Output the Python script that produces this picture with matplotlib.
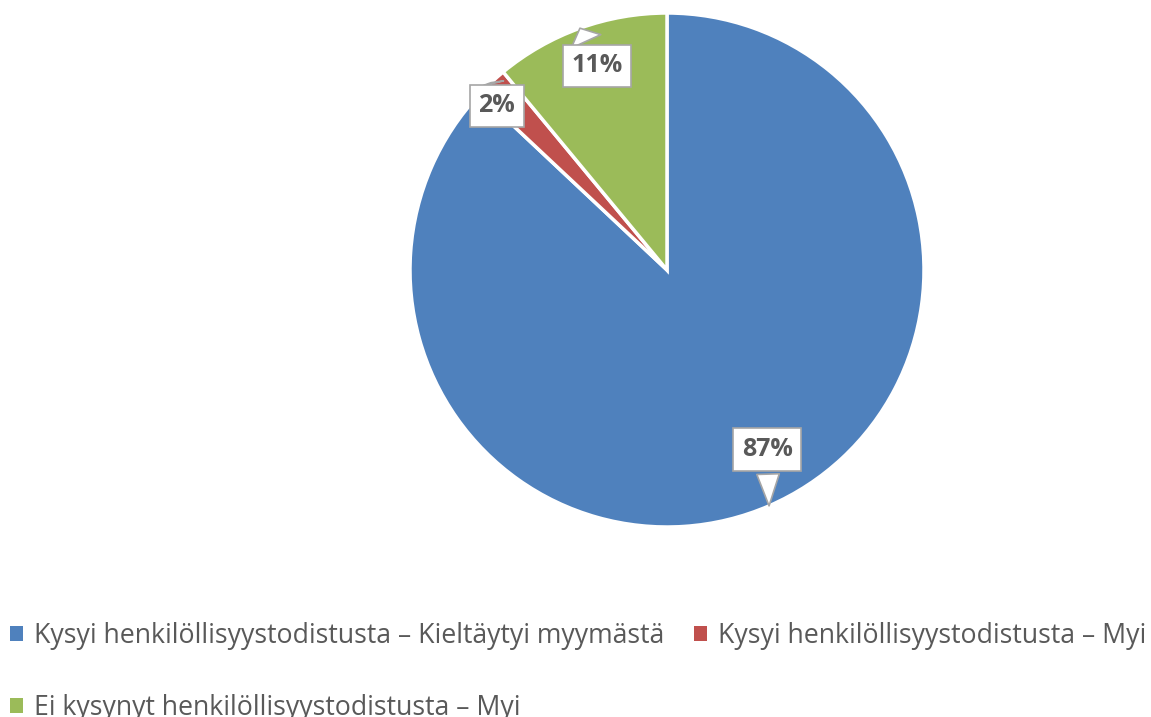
import numpy as np
import matplotlib
matplotlib.use("Agg")
import matplotlib.pyplot as plt
from matplotlib.patches import Patch

labels = ["Kysyi henkilöllisyystodistusta – Kieltäytyi myymästä",
          "Kysyi henkilöllisyystodistusta – Myi",
          "Ei kysynyt henkilöllisyystodistusta – Myi"]
values = [87, 2, 11]
pct_labels = ["87%", "2%", "11%"]
colors = ["#4F81BD", "#C0504D", "#9BBB59"]

W, H = 1151, 717
fig = plt.figure(figsize=(W / 100, H / 100), dpi=100)
cx, cy, R = 667, 270, 257
ax = fig.add_axes([(cx - R) / W, (H - cy - R) / H, 2 * R / W, 2 * R / H])
wedges, _ = ax.pie(values, colors=colors, startangle=90, counterclock=False,
                   radius=1.0, wedgeprops=dict(edgecolor="white", linewidth=2.5))
ax.set_xlim(-1, 1)
ax.set_ylim(-1, 1)
ax.set_aspect("equal")
ax.axis("off")

# label box positions (radius factor, angular offset in degrees, pointer width)
label_pos = [(0.80, 5.8, 0.9), (0.92, 2.8, 1.0), (0.84, -0.9, 1.3)]
for w, txt, (rf, doff, tw) in zip(wedges, pct_labels, label_pos):
    mid = np.deg2rad((w.theta1 + w.theta2) / 2)
    tip = (np.cos(mid) * 1.0, np.sin(mid) * 1.0)
    a2 = mid + np.deg2rad(doff)
    pos = (np.cos(a2) * rf, np.sin(a2) * rf)
    ax.annotate(txt, xy=tip, xytext=pos, ha="center", va="center",
                fontsize=18, fontweight="bold", color="#595959", family="Open Sans",
                bbox=dict(boxstyle="square,pad=0.35", fc="white", ec="#A6A6A6", lw=1.2),
                arrowprops=dict(arrowstyle=f"wedge,tail_width={tw},shrink_factor=0.5",
                                fc="white", ec="#A6A6A6", lw=1.2, shrinkB=0),
                zorder=5)

handles = [Patch(facecolor=c, edgecolor="none") for c in colors]
order = [0, 2, 1]
fig.legend([handles[i] for i in order], [labels[i] for i in order],
           loc="upper left", bbox_to_anchor=(10 / W, 1 - 622 / H), ncol=2,
           frameon=False, prop=dict(family="Open Sans", size=19.2),
           labelcolor="#595959", handlelength=0.5, handleheight=0.5,
           handletextpad=0.4, columnspacing=1.1, labelspacing=1.65,
           borderaxespad=0, borderpad=0)

fig.savefig("out.png", dpi=100, facecolor="white")
